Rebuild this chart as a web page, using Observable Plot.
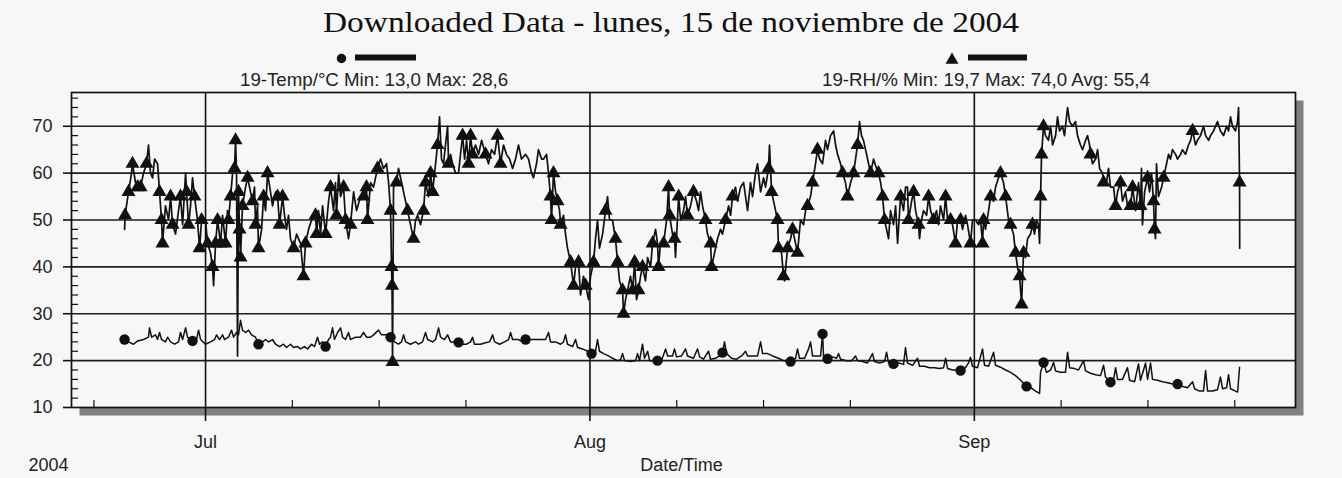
<!DOCTYPE html>
<html><head><meta charset="utf-8">
<script src="https://cdn.jsdelivr.net/npm/d3@7"></script>
<script src="https://cdn.jsdelivr.net/npm/@observablehq/plot@0.6"></script>
<style>
html,body{margin:0;padding:0;background:#f7f7f7;}
body{width:1342px;height:478px;overflow:hidden;font-family:"Liberation Sans",Arial,sans-serif;color:#111;}
#head{position:relative;height:88px;width:1342px;}
#title{position:absolute;left:323px;top:7px;font-family:"Liberation Serif","Times New Roman",serif;font-size:30px;line-height:30px;white-space:nowrap;transform-origin:0 0;color:#111;}
.lt{position:absolute;top:71px;font-size:18.7px;line-height:18.7px;white-space:nowrap;color:#222;}
#l1{left:240px;} #l2{left:822px;}
#leg{position:absolute;left:0;top:0;}
#chart svg{display:block;}
</style></head>
<body>
<div id="head">
  <div id="title">Downloaded Data - lunes, 15 de noviembre de 2004</div>
  <svg id="leg" width="1342" height="88"></svg>
  <div class="lt" id="l1">19-Temp/°C Min: 13,0 Max: 28,6</div>
  <div class="lt" id="l2">19-RH/% Min: 19,7 Max: 74,0 Avg: 55,4</div>
</div>
<div id="chart"></div>
<script>
// ---- data: [day offset from 1 Jul 2004, value, marker flag] ----
const rhPoints = [[-6.53,48,0],[-6.49,51,1],[-6.21,56,1],[-5.97,60,0],[-5.89,62,1],[-5.65,58,0],[-5.48,57,1],[-5.24,57,1],[-5.00,60,0],[-4.76,62,1],[-4.60,66,0],[-4.44,60,0],[-4.27,59,0],[-4.11,63,0],[-3.87,62,0],[-3.71,56,1],[-3.55,50,1],[-3.47,45,1],[-3.23,53,0],[-2.98,50,0],[-2.82,55,1],[-2.66,49,1],[-2.42,47,0],[-2.18,52,0],[-2.02,55,1],[-1.85,49,0],[-1.61,60,0],[-1.53,56,1],[-1.37,49,1],[-1.21,53,0],[-1.05,59,0],[-0.89,55,1],[-0.65,50,0],[-0.48,44,1],[-0.32,50,1],[0,50,0],[0.16,45,1],[0.40,43,0],[0.56,40,1],[0.65,36,0],[0.81,45,1],[0.97,50,1],[1.21,45,1],[1.37,51,0],[1.61,45,1],[1.77,52,0],[1.85,50,1],[2.02,55,1],[2.18,60,0],[2.34,61,1],[2.42,67,1],[2.50,60,0],[2.58,21,0],[2.66,56,1],[2.74,48,1],[2.82,42,1],[2.98,53,1],[3.23,57,0],[3.39,59,1],[3.63,56,0],[3.79,54,1],[3.95,57,0],[4.03,49,1],[4.19,53,0],[4.27,44,1],[4.52,48,0],[4.68,55,1],[4.84,52,0],[5.00,60,1],[5.24,56,0],[5.40,53,0],[5.65,56,0],[5.81,55,1],[5.97,49,1],[6.21,55,1],[6.37,51,0],[6.53,48,0],[6.69,51,0],[6.85,46,0],[7.10,44,1],[7.34,47,0],[7.66,45,0],[7.90,38,1],[8.06,45,1],[8.31,48,0],[8.55,50,0],[8.87,51,1],[8.95,47,1],[9.11,52,0],[9.27,47,0],[9.44,53,0],[9.68,47,1],[9.92,54,0],[10.08,57,1],[10.32,52,0],[10.48,58,0],[10.56,51,1],[10.73,60,0],[10.89,55,0],[11.13,57,1],[11.29,50,1],[11.53,46,0],[11.69,49,1],[11.94,56,0],[12.18,52,0],[12.50,55,0],[12.74,55,1],[12.98,57,1],[13.06,50,1],[13.31,58,0],[13.55,57,0],[13.87,61,1],[14.11,63,0],[14.35,61,0],[14.60,62,0],[14.76,58,0],[14.92,52,1],[15.00,40,1],[15.04,36,1],[15.08,19.7,1],[15.16,57,0],[15.40,58,1],[15.56,61,0],[15.81,58,0],[16.05,55,0],[16.29,52,1],[16.45,50,0],[16.61,48,0],[16.77,46,1],[16.94,50,0],[17.10,51,0],[17.34,49,0],[17.58,52,1],[17.74,58,1],[17.98,55,0],[18.15,60,1],[18.31,56,1],[18.55,62,0],[18.71,66,1],[18.87,72,0],[19.03,63,0],[19.19,62,0],[19.35,66,0],[19.52,70,0],[19.60,62,1],[19.76,64,0],[19.92,62,0],[20.16,60,0],[20.40,60,0],[20.56,64,0],[20.73,68,1],[20.89,63,0],[21.05,67,0],[21.21,62,1],[21.37,68,1],[21.53,64,1],[21.77,66,0],[22.02,64,0],[22.26,67,0],[22.58,64,1],[22.82,62,0],[23.06,65,0],[23.31,64,0],[23.55,68,1],[23.79,62,1],[24.03,66,0],[24.27,64,0],[24.52,63,0],[24.76,61,0],[25.00,63,0],[25.24,66,0],[25.48,63,0],[25.81,64,0],[26.05,63,0],[26.29,60,0],[26.45,59,0],[26.69,62,0],[26.85,65,0],[27.10,63,0],[27.26,63,0],[27.50,64,0],[27.66,60,0],[27.82,55,1],[27.90,50,1],[28.06,60,1],[28.23,56,0],[28.39,54,1],[28.55,52,0],[28.63,49,1],[28.87,51,0],[29.03,47,0],[29.19,44,0],[29.44,41,1],[29.68,36,1],[29.84,40,0],[30.08,41,1],[30.24,34,0],[30.48,38,0],[30.65,36,1],[30.89,33,0],[31.05,38,0],[31.29,41,1],[31.45,46,0],[31.61,50,0],[31.77,44,0],[32.02,47,0],[32.26,52,1],[32.42,55,0],[32.58,50,0],[32.82,50,0],[33.06,46,1],[33.23,41,1],[33.39,37,0],[33.63,35,1],[33.71,30,1],[33.87,33,0],[34.03,35,0],[34.27,38,0],[34.44,35,1],[34.60,41,1],[34.76,33,0],[34.92,35,1],[35.08,38,0],[35.24,40,1],[35.48,37,0],[35.65,42,0],[35.89,40,0],[36.05,45,1],[36.29,48,0],[36.45,45,0],[36.53,40,1],[36.69,45,0],[36.94,45,1],[37.18,50,0],[37.34,57,1],[37.42,51,1],[37.66,47,0],[37.82,46,1],[37.90,42,0],[38.15,55,1],[38.31,50,0],[38.55,52,0],[38.71,55,0],[38.87,51,1],[39.11,53,0],[39.35,56,1],[39.60,54,0],[39.76,52,0],[39.92,56,0],[40.08,53,0],[40.32,50,1],[40.48,47,0],[40.73,45,1],[40.81,40,1],[41.05,43,0],[41.29,46,0],[41.53,48,0],[41.69,47,0],[41.94,50,1],[42.18,53,0],[42.34,51,0],[42.50,55,1],[42.74,57,0],[42.90,54,0],[43.15,57,0],[43.39,58,0],[43.55,55,0],[43.71,52,0],[43.95,58,0],[44.11,55,0],[44.35,60,0],[44.52,62,0],[44.76,56,0],[45.00,59,0],[45.16,57,0],[45.40,61,1],[45.48,66,0],[45.65,56,1],[45.89,53,0],[46.13,50,1],[46.21,44,1],[46.45,43,0],[46.61,38,1],[46.69,37,0],[46.94,44,1],[47.18,46,0],[47.34,48,1],[47.58,45,0],[47.74,43,1],[47.98,50,0],[48.23,49,0],[48.39,52,0],[48.55,53,1],[48.79,55,0],[48.95,58,1],[49.19,62,0],[49.35,65,1],[49.52,63,0],[49.76,62,0],[50.00,67,0],[50.16,65,0],[50.40,68,0],[50.65,69,0],[50.81,66,0],[50.97,64,0],[51.21,62,0],[51.37,60,1],[51.61,58,0],[51.77,55,1],[52.02,58,0],[52.26,60,1],[52.42,63,0],[52.58,66,1],[52.74,71,0],[52.90,68,0],[53.06,67,0],[53.31,64,0],[53.47,62,0],[53.63,60,1],[53.87,63,0],[54.11,61,0],[54.27,60,1],[54.44,58,0],[54.60,55,1],[54.76,50,1],[54.92,48,0],[55.08,46,0],[55.24,52,0],[55.48,49,0],[55.65,53,0],[55.81,45,0],[56.05,55,1],[56.29,52,0],[56.45,57,0],[56.61,57,0],[56.69,50,1],[56.94,54,0],[57.10,56,1],[57.26,52,0],[57.50,49,1],[57.58,46,0],[57.74,50,0],[57.90,52,0],[58.15,51,0],[58.31,55,1],[58.47,52,0],[58.71,50,1],[58.95,52,0],[59.11,49,0],[59.27,53,0],[59.52,50,0],[59.68,55,1],[59.84,50,0],[60.08,50,1],[60.24,49,0],[60.48,45,1],[60.65,50,0],[60.89,50,1],[61.05,48,0],[61.29,51,0],[61.45,49,0],[61.69,45,1],[61.85,50,0],[62.10,50,0],[62.34,49,0],[62.50,50,0],[62.66,45,1],[62.74,50,1],[62.90,48,0],[63.15,52,0],[63.31,55,1],[63.55,54,0],[63.71,57,0],[63.95,59,0],[64.11,60,1],[64.35,58,0],[64.52,55,1],[64.76,50,0],[64.92,49,1],[65.16,47,0],[65.32,43,1],[65.48,40,0],[65.65,38,1],[65.73,35,0],[65.81,32,1],[65.89,38,0],[65.97,43,1],[66.13,42,0],[66.29,46,0],[66.53,47,0],[66.69,49,1],[66.85,47,0],[67.02,50,0],[67.18,49,0],[67.26,45,0],[67.34,55,1],[67.42,64,1],[67.58,70,1],[67.74,68,0],[67.98,67,0],[68.15,70,0],[68.31,66,0],[68.55,68,0],[68.71,72,0],[68.87,69,0],[69.11,70,0],[69.27,68,0],[69.52,74,0],[69.68,71,0],[69.92,70,0],[70.16,71,0],[70.32,68,0],[70.56,66,0],[70.73,65,0],[70.97,67,0],[71.13,68,0],[71.29,66,0],[71.37,64,1],[71.53,62,0],[71.77,63,0],[71.94,65,0],[72.10,61,0],[72.34,60,0],[72.42,58,1],[72.66,58,0],[72.82,61,0],[72.98,57,0],[73.23,57,0],[73.39,53,1],[73.55,56,0],[73.79,58,1],[73.95,54,0],[74.19,56,0],[74.35,53,0],[74.60,53,1],[74.76,57,1],[75.00,52,0],[75.24,58,0],[75.40,53,1],[75.48,61,0],[75.56,49,0],[75.73,56,0],[75.97,59,1],[76.13,56,0],[76.29,60,0],[76.45,54,1],[76.53,48,1],[76.61,46,0],[76.69,62,0],[76.85,55,0],[77.10,57,0],[77.26,59,1],[77.50,62,0],[77.66,64,0],[77.82,63,0],[77.98,65,0],[78.23,64,0],[78.39,63,0],[78.63,64,0],[78.79,65,0],[79.03,64,0],[79.27,66,0],[79.44,67,0],[79.60,69,1],[79.84,66,0],[80.00,67,0],[80.24,68,0],[80.48,70,0],[80.65,68,0],[80.89,67,0],[81.05,68,0],[81.29,69,0],[81.61,71,0],[81.85,69,0],[82.10,68,0],[82.34,70,0],[82.50,69,0],[82.66,72,0],[82.82,70,0],[83.06,69,0],[83.23,71,0],[83.31,74,0],[83.39,58,1],[83.40,44,0]];

const tempPoints = [[-6.53,24.5,1],[-6.21,24.0,0],[-5.81,23.5,0],[-5.48,24.2,0],[-5.00,24.5,0],[-4.60,25.0,0],[-4.52,27.0,0],[-4.35,25.0,0],[-4.03,25.5,0],[-3.87,24.5,0],[-3.71,26.0,0],[-3.55,24.5,0],[-3.23,24.0,0],[-3.06,25.0,0],[-2.82,24.0,0],[-2.50,23.5,0],[-2.18,24.0,0],[-2.02,26.0,0],[-1.85,24.5,0],[-1.61,27.0,0],[-1.45,25.0,0],[-1.21,24.5,0],[-1.05,24.2,1],[-0.73,24.5,0],[-0.56,26.5,0],[-0.40,24.5,0],[0,23.5,0],[0.40,24.0,0],[0.73,24.5,0],[0.89,25.5,0],[1.13,24.5,0],[1.37,25.5,0],[1.53,24.5,0],[1.85,25.0,0],[2.10,26.5,0],[2.26,25.0,0],[2.50,26.0,0],[2.66,25.5,0],[2.82,28.6,0],[2.98,26.5,0],[3.23,26.0,0],[3.47,26.5,0],[3.71,25.5,0],[4.03,25.0,0],[4.27,23.5,1],[4.60,24.0,0],[4.84,24.5,0],[5.08,24.0,0],[5.40,24.5,0],[5.65,23.5,0],[5.97,23.0,0],[6.29,23.5,0],[6.53,22.8,0],[6.85,23.5,0],[7.10,22.8,0],[7.42,23.0,0],[7.66,22.5,0],[7.98,23.0,0],[8.23,22.5,0],[8.55,23.5,0],[8.79,23.0,0],[9.03,25.0,0],[9.19,23.5,0],[9.44,24.0,0],[9.68,23.0,1],[9.92,24.5,0],[10.08,25.0,0],[10.24,27.0,0],[10.40,24.5,0],[10.65,26.0,0],[10.89,27.0,0],[11.05,25.0,0],[11.29,24.5,0],[11.53,26.0,0],[11.69,24.5,0],[12.10,25.0,0],[12.50,25.0,0],[12.74,26.0,0],[12.98,25.0,0],[13.31,25.0,0],[13.55,25.5,0],[13.95,26.5,0],[14.19,25.5,0],[14.60,25.5,0],[14.92,25.0,1],[15.24,24.0,0],[15.56,23.5,0],[15.81,24.0,0],[15.97,25.5,0],[16.13,24.0,0],[16.53,23.5,0],[16.94,24.0,0],[17.18,23.5,0],[17.50,24.0,0],[17.74,26.0,0],[17.90,24.5,0],[18.31,24.0,0],[18.55,24.5,0],[18.79,27.0,0],[18.95,25.0,0],[19.27,24.5,0],[19.52,25.5,0],[19.76,24.0,0],[20.16,24.0,0],[20.40,23.9,1],[20.73,23.5,0],[21.05,23.5,0],[21.37,24.0,0],[21.53,25.0,0],[21.69,23.5,0],[22.18,23.5,0],[22.58,23.8,0],[22.90,24.0,0],[23.15,25.5,0],[23.31,24.0,0],[23.71,23.5,0],[24.11,24.0,0],[24.44,24.5,0],[24.60,26.0,0],[24.76,24.5,0],[25.24,24.5,0],[25.56,24.0,0],[25.81,24.5,1],[26.21,24.5,0],[26.61,24.5,0],[27.02,24.5,0],[27.42,24.5,0],[27.66,26.0,0],[27.82,24.0,0],[28.23,24.0,0],[28.63,23.5,0],[28.87,24.0,0],[29.03,25.5,0],[29.19,23.5,0],[29.60,23.0,0],[29.84,24.5,0],[30.00,22.8,0],[30.40,22.5,0],[30.81,22.0,0],[31.13,21.5,1],[31.45,22.0,0],[31.61,24.5,0],[31.77,22.0,0],[32.10,21.5,0],[32.50,21.0,0],[32.82,20.5,0],[33.23,20.0,0],[33.47,20.2,0],[33.63,21.5,0],[33.79,20.0,0],[34.27,19.8,0],[34.68,20.0,0],[34.84,21.5,0],[35.00,20.0,0],[35.24,23.5,0],[35.40,20.5,0],[35.65,22.0,0],[35.81,20.0,0],[36.13,20.0,0],[36.45,20.0,1],[36.77,20.0,0],[37.10,22.5,0],[37.26,21.0,0],[37.66,21.0,0],[37.82,22.5,0],[37.98,20.8,0],[38.39,21.0,0],[38.71,22.5,0],[38.87,21.0,0],[39.35,20.5,0],[39.68,22.5,0],[39.84,20.8,0],[40.16,20.3,0],[40.56,22.0,0],[40.73,20.3,0],[41.13,20.5,0],[41.45,21.0,0],[41.69,21.7,1],[41.85,24.0,0],[42.02,21.5,0],[42.42,20.5,0],[42.82,20.3,0],[43.23,21.0,0],[43.55,22.0,0],[43.71,21.0,0],[44.11,21.0,0],[44.52,21.0,0],[44.76,24.0,0],[44.92,21.5,0],[45.32,21.5,0],[45.73,21.0,0],[46.21,20.5,0],[46.61,20.0,0],[47.18,19.8,1],[47.58,20.5,0],[47.74,22.5,0],[47.90,20.5,0],[48.31,20.5,0],[48.63,22.5,0],[48.79,24.0,0],[48.95,21.0,0],[49.35,21.0,0],[49.60,21.0,0],[49.76,25.7,1],[49.84,21.0,0],[50.16,20.4,1],[50.56,20.8,0],[50.89,20.5,0],[51.05,21.5,0],[51.21,20.3,0],[51.69,20.0,0],[52.10,20.0,0],[52.42,21.0,0],[52.58,20.0,0],[52.98,19.8,0],[53.39,19.5,0],[53.79,21.5,0],[53.95,19.8,0],[54.35,19.5,0],[54.76,19.8,0],[54.92,21.8,0],[55.08,19.5,0],[55.48,19.3,1],[55.89,19.5,0],[56.29,19.2,0],[56.45,22.8,0],[56.61,19.5,0],[57.02,19.0,0],[57.42,20.5,0],[57.58,18.8,0],[57.98,18.8,0],[58.39,18.5,0],[58.79,18.5,0],[59.19,18.3,0],[59.52,18.5,0],[59.68,20.5,0],[59.84,18.3,0],[60.24,18.0,0],[60.56,18.0,0],[60.89,17.9,1],[61.29,18.5,0],[61.53,19.5,0],[61.69,20.7,0],[61.85,18.8,0],[62.26,18.5,0],[62.66,22.5,0],[62.82,19.0,0],[63.15,18.8,0],[63.55,21.8,0],[63.71,19.0,0],[64.11,18.6,0],[64.52,18.0,0],[64.92,17.5,0],[65.32,16.8,0],[65.73,15.8,0],[66.21,14.5,1],[66.53,14.3,0],[66.94,13.5,0],[67.26,13.0,0],[67.34,17.5,0],[67.58,19.6,1],[67.82,17.5,0],[68.15,18.0,0],[68.39,19.6,0],[68.55,17.8,0],[68.95,17.5,0],[69.35,17.5,0],[69.52,21.8,0],[69.68,18.5,0],[70.08,18.3,0],[70.40,18.0,0],[70.81,20.0,0],[70.97,17.8,0],[71.37,17.3,0],[71.77,17.0,0],[72.18,16.8,0],[72.42,19.0,0],[72.58,16.5,0],[72.98,15.4,1],[73.23,16.0,0],[73.39,18.5,0],[73.55,16.0,0],[73.95,16.0,0],[74.35,18.5,0],[74.52,15.8,0],[74.92,15.5,0],[75.24,19.3,0],[75.40,15.8,0],[75.81,19.5,0],[75.97,16.0,0],[76.21,19.5,0],[76.37,16.0,0],[76.77,15.8,0],[77.18,15.5,0],[77.58,15.3,0],[77.98,15.0,0],[78.39,15.0,1],[78.79,14.5,0],[79.19,14.2,0],[79.60,15.5,0],[79.76,14.0,0],[80.16,13.5,0],[80.48,13.5,0],[80.65,17.9,0],[80.81,13.5,0],[81.21,13.5,0],[81.61,13.8,0],[81.85,16.5,0],[82.02,14.0,0],[82.34,14.2,0],[82.50,17.0,0],[82.66,14.0,0],[83.06,13.5,0],[83.23,13.3,0],[83.39,18.6,0]];

const monthTicks = ["2004-07-01","2004-08-01","2004-09-01"];
const weekTicks = ["2004-06-22","2004-07-08","2004-07-15","2004-07-22","2004-08-08","2004-08-15","2004-08-22","2004-09-08","2004-09-15","2004-09-22"];
const yTicks = [10,20,30,40,50,60,70];
const yGrid = [20,30,40,50,60,70];
const yMinor = [12,14,16,18,22,24,26,28,32,34,36,38,42,44,46,48,52,54,56,58,62,64,66,68,72,74,76];

// ---- build ----
const DAY = 864e5, JUL1 = Date.UTC(2004, 6, 1);
const toDate = d => new Date(JUL1 + d * DAY);
const rh = rhPoints.map(([d, v, m]) => ({t: toDate(d), v, m}));
const temp = tempPoints.map(([d, v, m]) => ({t: toDate(d), v, m}));
const months = monthTicks.map(s => new Date(s));
const weeks = weekTicks.map(s => new Date(s));
const x0 = toDate(-10.81), x1 = toDate(87.9);
const ink = "#111";
const bg = "#f7f7f7";

const chart = Plot.plot({
  width: 1342, height: 390,
  marginLeft: 71, marginRight: 47, marginTop: 4, marginBottom: 71,
  style: {background: "transparent", fontFamily: "'Liberation Sans', Arial, sans-serif", fontSize: "18px", color: ink},
  x: {type: "utc", domain: [x0, x1]},
  y: {domain: [10, 77.2]},
  marks: [
    Plot.frame({fill: "#808080", insetLeft: 8, insetTop: 8, insetRight: -8, insetBottom: -8}),
    Plot.frame({fill: bg}),
    Plot.ruleY(yGrid, {stroke: "#1e1e1e", strokeWidth: 1.7}),
    Plot.ruleX(months, {stroke: ink, strokeWidth: 1.6, insetBottom: -14}),
    Plot.ruleX(weeks, {y1: 10, y2: 10, insetBottom: 7, stroke: ink, strokeWidth: 1.2}),
    Plot.ruleY(yMinor, {x1: x0, x2: x0, insetRight: -7, stroke: ink, strokeWidth: 1.2}),
    Plot.line(temp, {x: "t", y: "v", stroke: ink, strokeWidth: 1.5}),
    Plot.line(rh, {x: "t", y: "v", stroke: ink, strokeWidth: 1.7}),
    Plot.dot(temp.filter(d => d.m), {x: "t", y: "v", symbol: "circle", r: 5.2, fill: ink}),
    Plot.dot(rh.filter(d => d.m), {x: "t", y: "v", symbol: "triangle", r: 5.2, fill: ink}),
    Plot.frame({stroke: ink, strokeWidth: 1.7}),
    Plot.axisY(yTicks, {tickSize: 8, tickPadding: 11, stroke: ink, strokeWidth: 1.6, label: null, fill: "#222"}),
    Plot.axisX(months, {tickSize: 0, tickPadding: 28, tickFormat: "%b", label: null, fill: "#222"}),
    Plot.text(["2004"], {text: d => d, frameAnchor: "bottom-left", textAnchor: "start", lineAnchor: "middle", dx: -43, dy: 58, fill: "#222"}),
    Plot.text(["Date/Time"], {text: d => d, frameAnchor: "bottom", lineAnchor: "middle", dx: -2, dy: 58, fill: "#222"})
  ]
});
document.getElementById("chart").append(chart);

// legend symbols
const leg = d3.select("#leg");
leg.append("path").attr("transform", "translate(341.5,58.5)").attr("d", d3.symbol(d3.symbolCircle, Math.PI * 4.7 * 4.7)()).attr("fill", ink);
leg.append("line").attr("x1", 355).attr("x2", 416).attr("y1", 57.5).attr("y2", 57.5).attr("stroke", ink).attr("stroke-width", 6);
leg.append("path").attr("transform", "translate(952,60)").attr("d", d3.symbol(d3.symbolTriangle, Math.PI * 4.8 * 4.8)()).attr("fill", ink);
leg.append("line").attr("x1", 968).attr("x2", 1027).attr("y1", 57.5).attr("y2", 57.5).attr("stroke", ink).attr("stroke-width", 6);

// stretch title to the reference width
const t = document.getElementById("title");
const w = t.getBoundingClientRect().width;
t.style.transform = `scaleX(${696 / w})`;
</script>
</body></html>
